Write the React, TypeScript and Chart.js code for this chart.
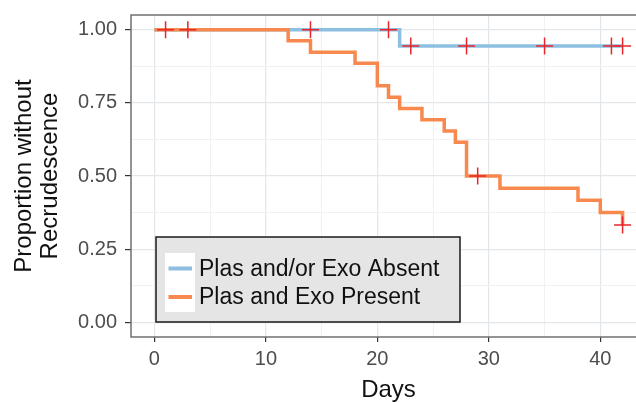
import React, { useEffect, useRef } from 'react';
import { Chart, registerables } from 'chart.js';

Chart.register(...registerables);

// ---- data ----
const seriesLabels = ['Plas and/or Exo Absent', 'Plas and Exo Present'];
const seriesColors = ['#8dbfe0', '#f7894f'];
const censorColor = '#e8262b';

const absentDays = [0, 22, 42];
const absentSurv = [1, 0.944, 0.944];
const absentCensorDays = [14, 21, 23, 28, 35, 41, 42];

const presentDays = [0, 12, 14, 18, 20, 21, 22, 24, 26, 27, 28, 31, 38, 40, 42];
const presentSurv = [1, 0.962, 0.923, 0.885, 0.808, 0.769, 0.731, 0.692, 0.654, 0.615, 0.5, 0.458, 0.417, 0.375, 0.333];
const presentCensorDays = [1, 3, 29, 42];

const xMajorTicks = [0, 10, 20, 30, 40];
const xMinorTicks = [5, 15, 25, 35];
const yMajorTicks = [0, 0.25, 0.5, 0.75, 1];
const yMajorLabels = ['0.00', '0.25', '0.50', '0.75', '1.00'];
const yMinorTicks = [0.125, 0.375, 0.625, 0.875];

const xTitle = 'Days';
const yTitle = ['Proportion without', 'Recrudescence'];

const FONT = "'Liberation Sans', Arial, Helvetica, sans-serif";

function survAt(days: number[], surv: number[], t: number) {
  let v = surv[0];
  for (let i = 0; i < days.length; i++) if (days[i] <= t) v = surv[i];
  return v;
}

function zeroPadding(scale: any) {
  scale.paddingLeft = 0;
  scale.paddingRight = 0;
  scale.paddingTop = 0;
  scale.paddingBottom = 0;
}

const panelBorder = {
  id: 'panelBorder',
  beforeDatasetsDraw(chart: any) {
    const { ctx, chartArea: a } = chart;
    ctx.save();
    ctx.strokeStyle = '#707070';
    ctx.lineWidth = 1.5;
    ctx.strokeRect(a.left, a.top, a.right - a.left, a.bottom - a.top);
    ctx.restore();
  },
};

const kmLegend = {
  id: 'kmLegend',
  afterDraw(chart: any) {
    const ctx = chart.ctx;
    const ds = chart.data.datasets.filter((d: any) => d.isCurve);
    ctx.save();
    ctx.fillStyle = '#e5e5e5';
    ctx.fillRect(156, 237, 304, 85);
    ctx.strokeStyle = '#1a1a1a';
    ctx.lineWidth = 1.5;
    ctx.strokeRect(156, 237, 304, 85);
    ctx.fillStyle = '#ffffff';
    ctx.fillRect(165, 253, 30, 59);
    const rows = [268.5, 297];
    ds.forEach((d: any, i: number) => {
      ctx.strokeStyle = d.borderColor;
      ctx.lineWidth = 4;
      ctx.beginPath();
      ctx.moveTo(168.5, rows[i]);
      ctx.lineTo(192, rows[i]);
      ctx.stroke();
      ctx.fillStyle = '#111111';
      ctx.font = `23px ${FONT}`;
      ctx.textBaseline = 'middle';
      ctx.textAlign = 'left';
      ctx.fillText(d.label, 199, rows[i] + 1);
    });
    ctx.restore();
  },
};

export default function App() {
  const ref = useRef<HTMLCanvasElement | null>(null);

  useEffect(() => {
    if (!ref.current) return;
    const absentCensors = absentCensorDays.map((t) => ({ x: t, y: survAt(absentDays, absentSurv, t) }));
    const presentCensors = presentCensorDays.map((t) => ({ x: t, y: survAt(presentDays, presentSurv, t) }));

    const xTicksAll = [...xMajorTicks, ...xMinorTicks].sort((a, b) => a - b);
    const yTicksAll = [...yMajorTicks, ...yMinorTicks].sort((a, b) => a - b);
    const isXMajor = (v: number) => xMajorTicks.includes(v);
    const isYMajor = (v: number) => yMajorTicks.includes(v);

    const chart = new Chart(ref.current, {
      type: 'line',
      data: {
        datasets: [
          {
            label: seriesLabels[0],
            isCurve: true,
            data: absentDays.map((d, i) => ({ x: d, y: absentSurv[i] })),
            borderColor: seriesColors[0],
            backgroundColor: seriesColors[0],
            borderWidth: 3.5,
            stepped: 'before',
            pointRadius: 0,
            fill: false,
            order: 3,
          } as any,
          {
            label: seriesLabels[1],
            isCurve: true,
            data: presentDays.map((d, i) => ({ x: d, y: presentSurv[i] })),
            borderColor: seriesColors[1],
            backgroundColor: seriesColors[1],
            borderWidth: 3.5,
            stepped: 'before',
            pointRadius: 0,
            fill: false,
            order: 2,
          } as any,
          {
            label: 'censor-absent',
            data: absentCensors,
            showLine: false,
            pointStyle: 'cross',
            pointRadius: 8.5,
            pointBorderWidth: 1.5,
            borderColor: censorColor,
            backgroundColor: censorColor,
            order: 1,
          } as any,
          {
            label: 'censor-present',
            data: presentCensors,
            showLine: false,
            pointStyle: 'cross',
            pointRadius: 8.5,
            pointBorderWidth: 1.5,
            borderColor: censorColor,
            backgroundColor: censorColor,
            order: 0,
          } as any,
        ],
      },
      options: {
        responsive: false,
        animation: false,
        devicePixelRatio: 1,
        layout: { autoPadding: false, padding: { top: 15, right: 0, left: 0, bottom: 0 } },
        plugins: { legend: { display: false }, tooltip: { enabled: false } },
        scales: {
          x: {
            type: 'linear',
            min: -2.1,
            max: 44.1,
            afterBuildTicks: (scale: any) => {
              scale.ticks = xTicksAll.map((v) => ({ value: v }));
            },
            afterFit: (scale: any) => {
              scale.height = 65;
              zeroPadding(scale);
            },
            border: { display: false },
            grid: {
              color: (c: any) => (c.tick && isXMajor(c.tick.value) ? '#e4e7e9' : '#eff1f2'),
              lineWidth: (c: any) => (c.tick && isXMajor(c.tick.value) ? 1.2 : 1),
              tickColor: (c: any) => (c.tick && isXMajor(c.tick.value) ? '#333333' : 'rgba(0,0,0,0)'),
              tickLength: 5,
              tickWidth: 1.2,
              drawTicks: true,
            },
            ticks: {
              autoSkip: false,
              maxRotation: 0,
              padding: 5,
              color: '#4d4d4d',
              font: { family: FONT, size: 20 },
              callback: (v: any) => (isXMajor(Number(v)) ? String(v) : ''),
            },
            title: {
              display: true,
              text: xTitle,
              color: '#111111',
              font: { family: FONT, size: 24, lineHeight: 1.0 },
              padding: { top: 0, bottom: 0 },
            },
          },
          y: {
            type: 'linear',
            min: -0.05,
            max: 1.05,
            afterBuildTicks: (scale: any) => {
              scale.ticks = yTicksAll.map((v) => ({ value: v }));
            },
            afterFit: (scale: any) => {
              scale.width = 131;
              zeroPadding(scale);
            },
            border: { display: false },
            grid: {
              color: (c: any) => (c.tick && isYMajor(c.tick.value) ? '#e4e7e9' : '#eff1f2'),
              lineWidth: (c: any) => (c.tick && isYMajor(c.tick.value) ? 1.2 : 1),
              tickColor: (c: any) => (c.tick && isYMajor(c.tick.value) ? '#333333' : 'rgba(0,0,0,0)'),
              tickLength: 6,
              tickWidth: 1.2,
              drawTicks: true,
            },
            ticks: {
              autoSkip: false,
              padding: 8,
              color: '#4d4d4d',
              font: { family: FONT, size: 20 },
              callback: (v: any) => {
                const i = yMajorTicks.indexOf(Number(v));
                return i >= 0 ? yMajorLabels[i] : '';
              },
            },
            title: {
              display: true,
              text: yTitle,
              color: '#111111',
              font: { family: FONT, size: 24, lineHeight: 1.1 },
              padding: { top: 11, bottom: 0 },
            },
          },
        },
      },
      plugins: [panelBorder, kmLegend],
    } as any);
    return () => chart.destroy();
  }, []);

  return (
    <div style={{ position: 'fixed', left: 0, top: 0, width: 636, height: 402, overflow: 'hidden', background: '#fff' }}>
      <canvas ref={ref} width={646} height={402} style={{ display: 'block', width: 646, height: 402 }} />
    </div>
  );
}
